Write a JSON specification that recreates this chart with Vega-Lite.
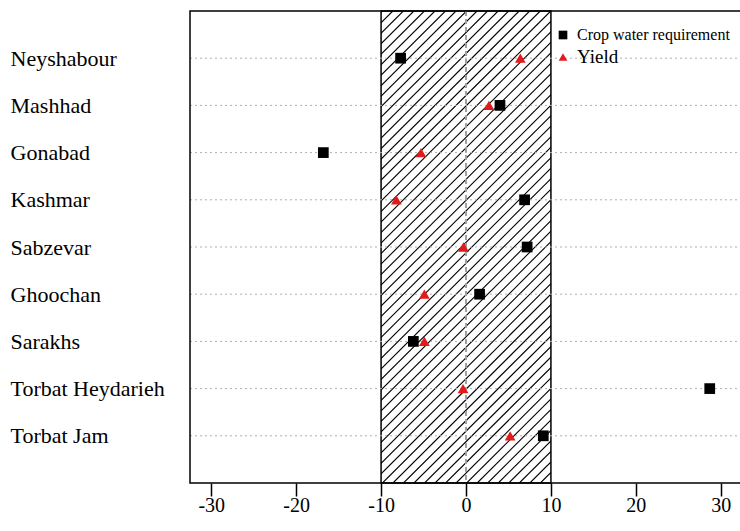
{
"$schema": "https://vega.github.io/schema/vega-lite/v6.json",
"width": 552, "height": 472,
"autosize": {"type": "none"},
"padding": {"left": 190, "top": 11, "right": 0, "bottom": 48},
"background": "white",
"config": {"view": {"stroke": null}, "font": "Liberation Serif"},
"datasets": {
"hatch": [
{"b":10,"t":65.78},{"b":8.76,"t":64.54},{"b":7.52,"t":63.30},{"b":6.28,"t":62.06},{"b":5.04,"t":60.82},{"b":3.80,"t":59.58},{"b":2.56,"t":58.34},{"b":1.32,"t":57.10},{"b":0.08,"t":55.86},{"b":-1.16,"t":54.62},{"b":-2.40,"t":53.38},{"b":-3.64,"t":52.14},{"b":-4.88,"t":50.90},{"b":-6.12,"t":49.66},{"b":-7.36,"t":48.42},{"b":-8.60,"t":47.18},{"b":-9.84,"t":45.94},{"b":-11.08,"t":44.70},{"b":-12.32,"t":43.46},{"b":-13.56,"t":42.22},{"b":-14.80,"t":40.98},{"b":-16.04,"t":39.74},{"b":-17.28,"t":38.50},{"b":-18.52,"t":37.26},{"b":-19.76,"t":36.02},{"b":-21.00,"t":34.78},{"b":-22.24,"t":33.54},{"b":-23.48,"t":32.30},{"b":-24.72,"t":31.06},{"b":-25.96,"t":29.82},{"b":-27.20,"t":28.58},{"b":-28.44,"t":27.34},{"b":-29.68,"t":26.10},{"b":-30.92,"t":24.86},{"b":-32.16,"t":23.62},{"b":-33.40,"t":22.38},{"b":-34.64,"t":21.14},{"b":-35.88,"t":19.90},{"b":-37.12,"t":18.66},{"b":-38.36,"t":17.42},{"b":-39.60,"t":16.18},{"b":-40.84,"t":14.94},{"b":-42.08,"t":13.70},{"b":-43.32,"t":12.46},{"b":-44.56,"t":11.22},{"b":-45.80,"t":9.98},{"b":-47.04,"t":8.74},{"b":-48.28,"t":7.50},{"b":-49.52,"t":6.26},{"b":-50.76,"t":5.02},{"b":-52.00,"t":3.78},{"b":-53.24,"t":2.54},{"b":-54.48,"t":1.30},{"b":-55.72,"t":0.06},{"b":-56.96,"t":-1.18},{"b":-58.20,"t":-2.42},{"b":-59.44,"t":-3.66},{"b":-60.68,"t":-4.90},{"b":-61.92,"t":-6.14},{"b":-63.16,"t":-7.38},{"b":-64.40,"t":-8.62},{"b":-65.64,"t":-9.86}
],
"cover": [{"x1": -40, "x2": -10}, {"x1": 10, "x2": 40}],
"band": [{"x1": -10, "x2": 10}],
"frame": [{"x1": -32.5, "x2": 32.5}],
"cities": [
{"city":"Neyshabour"},{"city":"Mashhad"},{"city":"Gonabad"},{"city":"Kashmar"},{"city":"Sabzevar"},{"city":"Ghoochan"},{"city":"Sarakhs"},{"city":"Torbat Heydarieh"},{"city":"Torbat Jam"}
],
"points": [
{"city":"Neyshabour","variable":"Crop water requirement","value":-7.7},
{"city":"Neyshabour","variable":"Yield","value":6.4},
{"city":"Mashhad","variable":"Crop water requirement","value":4.0},
{"city":"Mashhad","variable":"Yield","value":2.7},
{"city":"Gonabad","variable":"Crop water requirement","value":-16.8},
{"city":"Gonabad","variable":"Yield","value":-5.3},
{"city":"Kashmar","variable":"Crop water requirement","value":6.9},
{"city":"Kashmar","variable":"Yield","value":-8.2},
{"city":"Sabzevar","variable":"Crop water requirement","value":7.2},
{"city":"Sabzevar","variable":"Yield","value":-0.3},
{"city":"Ghoochan","variable":"Crop water requirement","value":1.6},
{"city":"Ghoochan","variable":"Yield","value":-4.9},
{"city":"Sarakhs","variable":"Crop water requirement","value":-6.2},
{"city":"Sarakhs","variable":"Yield","value":-4.9},
{"city":"Torbat Heydarieh","variable":"Crop water requirement","value":28.7},
{"city":"Torbat Heydarieh","variable":"Yield","value":-0.35},
{"city":"Torbat Jam","variable":"Crop water requirement","value":9.1},
{"city":"Torbat Jam","variable":"Yield","value":5.2}
]
},
"layer": [
{"data": {"name": "hatch"},
 "mark": {"type": "rule", "clip": true, "color": "black", "strokeWidth": 1.1},
 "encoding": {
  "x": {"field": "b", "type": "quantitative",
        "scale": {"domain": [-32.5, 32.5], "nice": false, "zero": false},
        "axis": {"title": null, "values": [-30,-20,-10,0,10,20,30], "grid": false, "domain": false,
                 "tickSize": 13, "tickColor": "black", "tickWidth": 1.5,
                 "labelExpr": "'' + datum.value",
                 "labelFontSize": 20, "labelColor": "black", "labelBaseline": "alphabetic", "labelPadding": 15,
                 "labelFont": "Liberation Serif"}},
  "x2": {"field": "t"},
  "y": {"datum": 0, "type": "quantitative", "scale": {"domain": [0, 1], "nice": false}, "axis": null},
  "y2": {"datum": 1}
 }},
{"data": {"name": "cover"},
 "mark": {"type": "rect", "clip": true, "fill": "white"},
 "encoding": {"x": {"field": "x1", "type": "quantitative"}, "x2": {"field": "x2"}}},
{"data": {"name": "band"},
 "mark": {"type": "rect", "fill": null, "fillOpacity": 0, "stroke": "black", "strokeWidth": 1.5},
 "encoding": {"x": {"field": "x1", "type": "quantitative"}, "x2": {"field": "x2"}}},
{"data": {"name": "cities"},
 "mark": {"type": "rule", "color": "#b0b0b0", "strokeWidth": 1, "strokeDash": [2, 3]},
 "encoding": {"y": {"field": "city", "type": "nominal",
   "scale": {"type": "point", "padding": 1, "domain": ["Neyshabour","Mashhad","Gonabad","Kashmar","Sabzevar","Ghoochan","Sarakhs","Torbat Heydarieh","Torbat Jam"]},
   "axis": {"title": null, "ticks": false, "domain": false, "grid": false, "labelAlign": "left", "labelPadding": 180,
            "labelFontSize": 22, "labelColor": "black", "labelFont": "Liberation Serif", "labelLimit": 0}}}},
{"data": {"name": "cities"},
 "mark": {"type": "rule", "color": "#a0a0a0", "strokeWidth": 1, "strokeDash": [5, 3]},
 "encoding": {"x": {"datum": 0, "type": "quantitative"}}},
{"data": {"name": "frame"},
 "mark": {"type": "rect", "fill": null, "fillOpacity": 0, "stroke": "black", "strokeWidth": 1.5},
 "encoding": {"x": {"field": "x1", "type": "quantitative"}, "x2": {"field": "x2"}}},
{"data": {"name": "points"},
 "mark": {"type": "point", "filled": true, "size": 115, "opacity": 1},
 "encoding": {
  "x": {"field": "value", "type": "quantitative"},
  "y": {"field": "city", "type": "nominal",
   "scale": {"type": "point", "padding": 1, "domain": ["Neyshabour","Mashhad","Gonabad","Kashmar","Sabzevar","Ghoochan","Sarakhs","Torbat Heydarieh","Torbat Jam"]},
   "axis": null},
  "shape": {"field": "variable", "type": "nominal",
   "scale": {"domain": ["Crop water requirement", "Yield"], "range": ["square", "triangle-up"]},
   "legend": {"title": null, "orient": "none", "legendX": 365, "legendY": 16, "padding": 0,
              "symbolSize": 75, "labelFont": "Liberation Serif", "labelColor": "black",
              "labelFontSize": {"expr": "datum.label === 'Yield' ? 19 : 16"},
              "rowPadding": 5, "labelOffset": 6, "labelLimit": 0}},
  "color": {"field": "variable", "type": "nominal",
   "scale": {"domain": ["Crop water requirement", "Yield"], "range": ["black", "#e31a1c"]},
   "legend": {"title": null, "orient": "none", "legendX": 365, "legendY": 16, "padding": 0,
              "symbolSize": 75, "labelFont": "Liberation Serif", "labelColor": "black",
              "labelFontSize": {"expr": "datum.label === 'Yield' ? 19 : 16"},
              "rowPadding": 5, "labelOffset": 6, "labelLimit": 0}}
 }}
],
"resolve": {"scale": {"y": "independent"}}
}
